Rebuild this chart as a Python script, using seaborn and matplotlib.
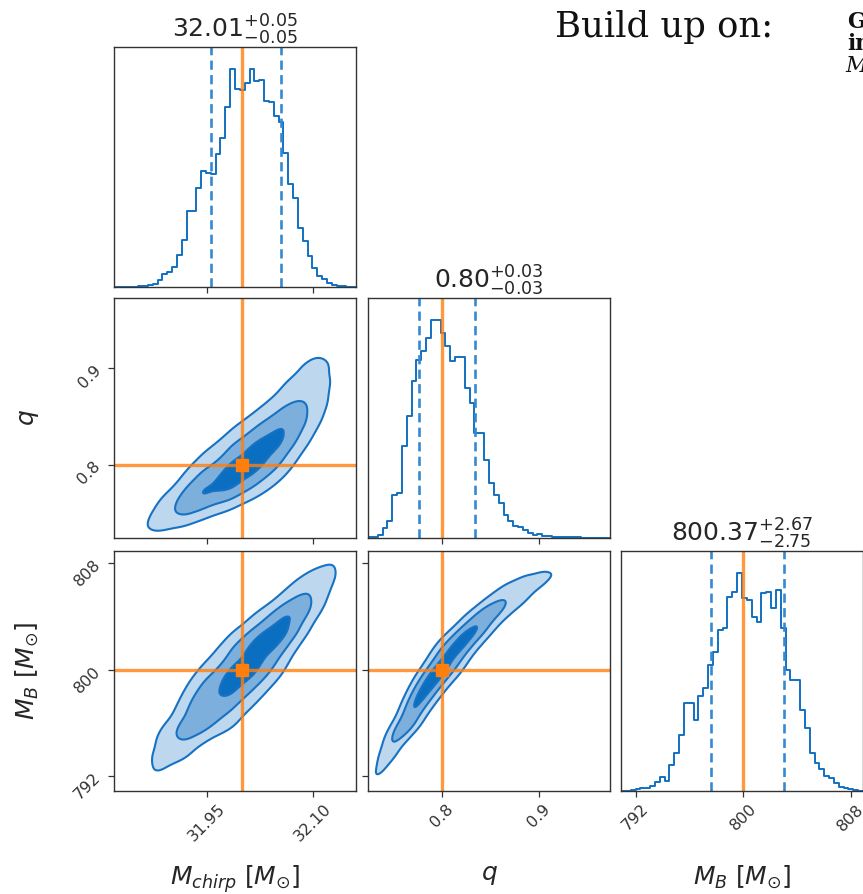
import math
import numpy as np
import pandas as pd
import matplotlib
matplotlib.use("Agg")
import matplotlib.pyplot as plt
import seaborn as sns

# ---------------- data ----------------
param_labels = [r"$M_{chirp}$ [$M_{\odot}$]", r"$q$", r"$M_B$ [$M_{\odot}$]"]
truths = [32.0, 0.80, 800.0]
ranges = [(31.818, 32.161), (0.7245, 0.9725), (790.9, 808.9)]
medians = [32.01, 0.80, 800.37]
err_plus = [0.05, 0.03, 2.67]
err_minus = [0.05, 0.03, 2.75]
quant_lo = [31.955, 0.777, 797.6]
quant_hi = [32.055, 0.834, 803.0]

tick_values = [[31.95, 32.10], [0.8, 0.9], [792, 800, 808]]
tick_labels = [["31.95", "32.10"], ["0.8", "0.9"], ["792", "800", "808"]]

mchirp_counts = [0, 0, 0, 0, 0, 2, 3, 5, 10, 22, 38, 45, 60, 95, 140, 228, 228, 298,
                 348, 343, 338, 400, 448, 540, 655, 593, 590, 613, 653, 618, 620, 558,
                 555, 513, 495, 403, 308, 268, 178, 138, 93, 58, 33, 23, 13, 6, 3, 2, 1, 0]
q_counts = [2, 3, 8, 30, 50, 130, 135, 275, 365, 470, 535, 560, 600, 655, 655, 615, 575,
            530, 543, 543, 450, 405, 315, 315, 235, 165, 130, 105, 70, 50, 35, 33, 25, 15,
            10, 13, 7, 5, 4, 3, 3, 3, 2, 3, 1, 0, 0, 0, 0, 0]
mb_counts = [0, 0, 3, 5, 8, 10, 15, 28, 42, 30, 78, 115, 170, 265, 265, 215, 285, 310,
             380, 420, 485, 490, 585, 600, 657, 580, 575, 525, 510, 595, 600, 550, 605,
             490, 365, 335, 335, 245, 190, 115, 85, 65, 45, 38, 25, 12, 8, 5, 3, 1]
hist_counts = [mchirp_counts, q_counts, mb_counts]

# correlation of each 2D panel (row, col) -> rho
pair_rho = {(1, 0): 0.87, (2, 0): 0.91, (2, 1): 0.975}
mass_levels = [0.989, 0.865, 0.393]

# ---------------- style ----------------
sns.set_style("ticks")
plt.rcParams["font.family"] = ["DejaVu Sans"]
plt.rcParams["mathtext.fontset"] = "dejavusans"

HIST_C = "#1270c2"
DASH_C = "#3489d2"
ORANGE = "#ff7f0e"
FILL_C = ["#bdd7ee", "#7cafdb", "#0b6fc1"]
LINE_C = "#1772c3"
SPINE_C = "#333333"

W, H = 863, 894
fig = plt.figure(figsize=(W / 100, H / 100), dpi=100)
col_left = [114, 368, 621]
row_top = [47, 298, 551]
aw, ah = 242, 240


def add_ax(r, c):
    return fig.add_axes([col_left[c] / W, 1 - (row_top[r] + ah) / H, aw / W, ah / H])


def style_ax(ax):
    for s in ax.spines.values():
        s.set_color(SPINE_C)
        s.set_linewidth(1.0)
    ax.tick_params(direction="out", length=4, width=0.9, colors=SPINE_C,
                   labelsize=11.5, labelcolor="#333333")


# table for inverse normal cdf
_zt = np.linspace(-6, 6, 2401)
_ct = 0.5 * (1 + np.array([math.erf(z / math.sqrt(2)) for z in _zt]))


def norm_ppf(u):
    return np.interp(u, _ct, _zt)


def kern(s):
    n = int(3 * s)
    k = np.exp(-0.5 * (np.arange(-n, n + 1) / s) ** 2)
    return k / k.sum()


def marginal(counts, rng, grid):
    edges = np.linspace(rng[0], rng[1], len(counts) + 1)
    centers = 0.5 * (edges[:-1] + edges[1:])
    pdf = np.interp(grid, centers, np.asarray(counts, float), left=0, right=0)
    pdf = np.convolve(pdf, kern(4.0), mode="same")
    pdf = pdf / pdf.sum()
    cdf = np.cumsum(pdf)
    cdf = cdf / cdf[-1]
    return pdf, cdf


def smooth(D, s):
    k = kern(s)
    D = np.apply_along_axis(lambda m: np.convolve(m, k, mode="same"), 0, D)
    D = np.apply_along_axis(lambda m: np.convolve(m, k, mode="same"), 1, D)
    return D


NG = 220
grids = [np.linspace(r[0], r[1], NG) for r in ranges]
margs = [marginal(hist_counts[i], ranges[i], grids[i]) for i in range(3)]

for r in range(3):
    for c in range(r + 1):
        ax = add_ax(r, c)
        style_ax(ax)
        if r == c:
            counts = hist_counts[r]
            edges = np.linspace(ranges[r][0], ranges[r][1], len(counts) + 1)
            centers = 0.5 * (edges[:-1] + edges[1:])
            df = pd.DataFrame({"x": centers, "w": np.asarray(counts, float)})
            sns.histplot(data=df, x="x", weights="w", bins=len(counts),
                         binrange=ranges[r], element="step", fill=False,
                         color=HIST_C, linewidth=1.4, ax=ax)
            ax.axvline(quant_lo[r], color=DASH_C, ls=(0, (3.5, 2)), lw=1.9)
            ax.axvline(quant_hi[r], color=DASH_C, ls=(0, (3.5, 2)), lw=1.9)
            ax.axvline(truths[r], color=ORANGE, lw=2.4, alpha=0.8)
            ax.set_xlim(*ranges[r])
            ax.set_ylim(0, 1.1 * max(counts))
            ax.set_yticks([])
            ax.set_ylabel("")
            ax.set_xlabel("")
            title = r"$%.2f_{-%.2f}^{+%.2f}$" % (medians[r], err_minus[r], err_plus[r])
            ax.set_title(title, fontsize=18)
        else:
            gx, gy = grids[c], grids[r]
            pdfx, cdfx = margs[c]
            pdfy, cdfy = margs[r]
            rho = pair_rho[(r, c)]
            zx = norm_ppf(np.clip(cdfx, 1e-7, 1 - 1e-7))
            zy = norm_ppf(np.clip(cdfy, 1e-7, 1 - 1e-7))
            Z1, Z2 = np.meshgrid(zx, zy)
            FX, FY = np.meshgrid(pdfx, pdfy)
            cop = np.exp(-(rho ** 2 * (Z1 ** 2 + Z2 ** 2) - 2 * rho * Z1 * Z2)
                         / (2 * (1 - rho ** 2)))
            D = smooth(FX * FY * cop, 2.5)
            flat = np.sort(D.ravel())[::-1]
            cs = np.cumsum(flat)
            cs /= cs[-1]
            thr = [flat[np.searchsorted(cs, p)] for p in mass_levels]
            ax.contourf(gx, gy, D, levels=thr + [D.max() * 1.01], colors=FILL_C)
            ax.contour(gx, gy, D, levels=thr, colors=LINE_C, linewidths=1.5)
            ax.axvline(truths[c], color=ORANGE, lw=2.4, alpha=0.8)
            ax.axhline(truths[r], color=ORANGE, lw=2.4, alpha=0.8)
            ax.plot(truths[c], truths[r], "s", color=ORANGE, ms=8.5)
            ax.set_xlim(*ranges[c])
            ax.set_ylim(*ranges[r])
            ax.set_yticks(tick_values[r])
            if c == 0:
                ax.set_yticklabels(tick_labels[r])
                for lab in ax.get_yticklabels():
                    lab.set_rotation(45)
                ax.set_ylabel(param_labels[r], fontsize=18)
                ax.yaxis.set_label_coords(-0.3, 0.5)
            else:
                ax.set_yticklabels([])
        ax.set_xticks(tick_values[c])
        if r == 2:
            ax.set_xticklabels(tick_labels[c])
            for lab in ax.get_xticklabels():
                lab.set_rotation(45)
            ax.set_xlabel(param_labels[c], fontsize=18)
            ax.xaxis.set_label_coords(0.5, -0.3)
        else:
            ax.set_xticklabels([])

fig.text(555 / W, 1 - 37 / H, "Build up on:", family="DejaVu Serif", fontsize=25.5,
         va="baseline", ha="left", color="#111111")
fig.text(847 / W, 1 - 28 / H, "G", family="DejaVu Serif", fontweight="bold",
         fontsize=15.5, va="baseline", ha="left", color="#111111")
fig.text(847 / W, 1 - 50 / H, "in", family="DejaVu Serif", fontweight="bold",
         fontsize=15.5, va="baseline", ha="left", color="#111111")
fig.text(845 / W, 1 - 72 / H, "M", family="DejaVu Serif", style="italic",
         fontsize=15.5, va="baseline", ha="left", color="#111111")

fig.savefig("out.png", dpi=100)
